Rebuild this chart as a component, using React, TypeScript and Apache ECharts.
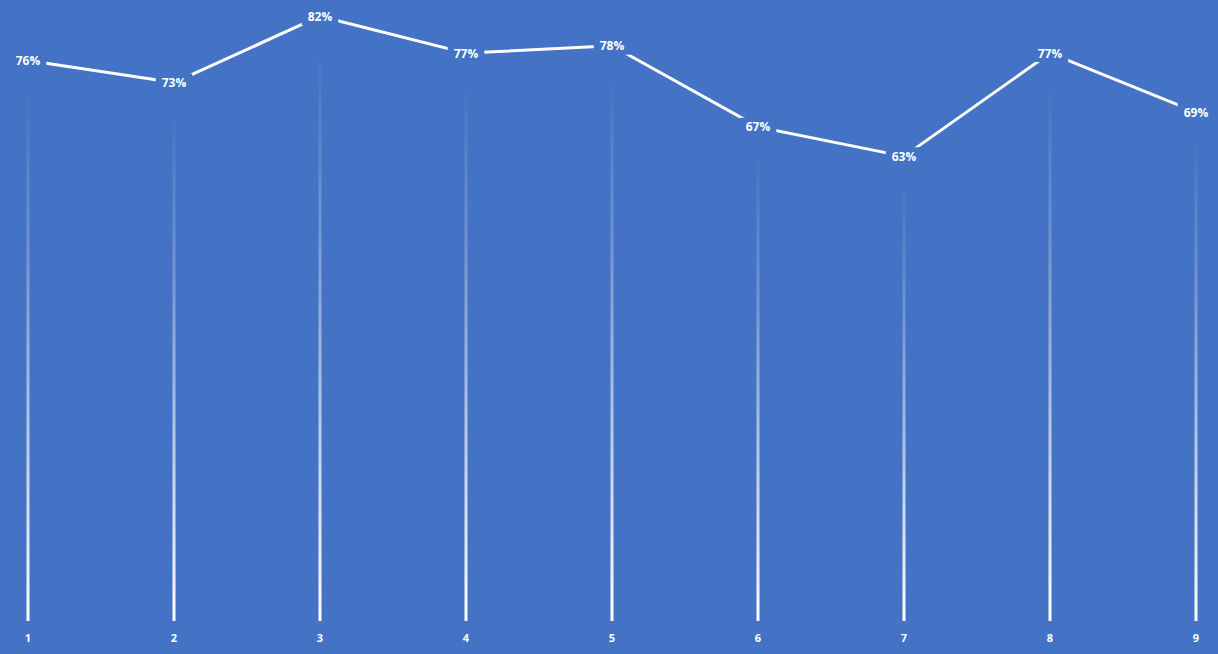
import React, { useEffect, useRef } from "react";
import * as echarts from "echarts";

const categories = ["1", "2", "3", "4", "5", "6", "7", "8", "9"];
const values = [76, 73, 82, 77, 78, 67, 63, 77, 69];

const BG = "#4472C4";

export default function App() {
  const ref = useRef<HTMLDivElement>(null);
  useEffect(() => {
    document.body.style.margin = "0";
    const chart = echarts.init(ref.current!, null, { renderer: "svg" });
    chart.setOption({
      animation: false,
      backgroundColor: BG,
      grid: { left: 28, right: 22, top: 0, bottom: 33 },
      xAxis: {
        type: "category",
        data: categories,
        boundaryGap: false,
        axisLine: { show: false },
        axisTick: { show: false },
        axisLabel: {
          color: "#ffffff",
          fontSize: 11,
          fontFamily: "Open Sans",
          fontWeight: "bold",
          margin: 11,
        },
        splitLine: { show: false },
      },
      yAxis: {
        type: "value",
        min: 0,
        max: 84.2,
        show: false,
        splitLine: { show: false },
      },
      series: [
        {
          type: "bar",
          data: values,
          barWidth: 3,
          itemStyle: {
            color: new echarts.graphic.LinearGradient(0, 0, 0, 1, [
              { offset: 0, color: "rgba(255,255,255,0)" },
              { offset: 0.05, color: "rgba(255,255,255,0)" },
              { offset: 0.35, color: "rgba(255,255,255,0.25)" },
              { offset: 1, color: "rgba(255,255,255,1)" },
            ]),
          },
          z: 1,
        },
        {
          type: "line",
          data: values,
          symbol: "circle",
          symbolSize: 0.1,
          showSymbol: true,
          itemStyle: { color: "#ffffff" },
          lineStyle: { color: "#ffffff", width: 3 },
          z: 2,
          label: {
            show: true,
            position: "inside",
            formatter: "{c}%",
            color: "#ffffff",
            fontSize: 12,
            fontWeight: "bold",
            fontFamily: "Open Sans",
            backgroundColor: BG,
            padding: [3, 6],
          },
        },
      ],
    });
    return () => chart.dispose();
  }, []);
  return (
    <div
      ref={ref}
      style={{ position: "absolute", left: 0, top: 0, width: 1218, height: 654 }}
    />
  );
}
